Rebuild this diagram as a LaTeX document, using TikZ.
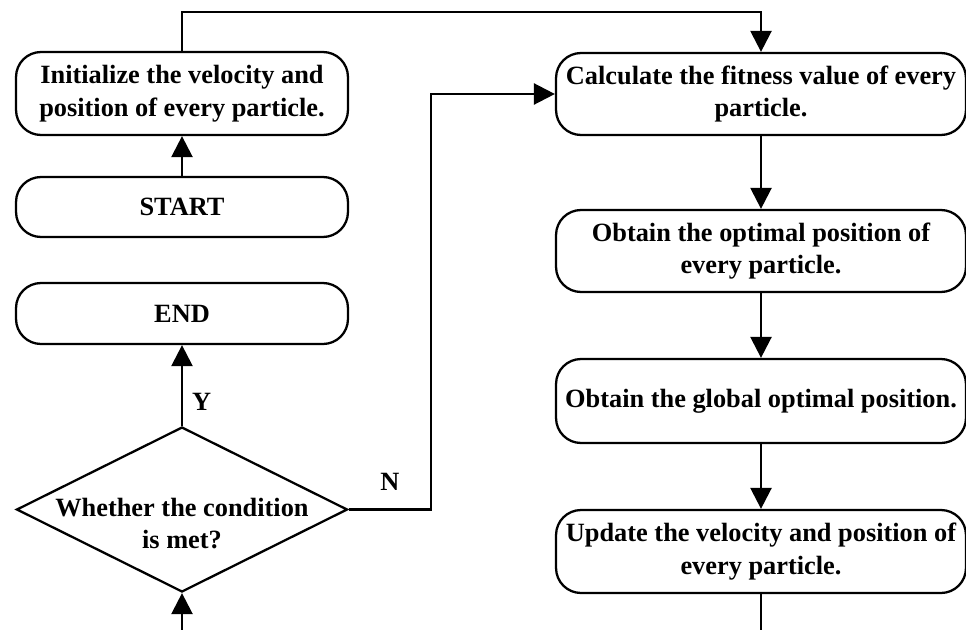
\documentclass[tikz,border=0pt]{standalone}
\usepackage{fontspec}
\setmainfont{Liberation Serif}
\usetikzlibrary{arrows.meta,shapes.geometric}
\tikzset{
	flowtext/.style={align=center, inner sep=0pt, font=\bfseries\fontsize{15}{18.5}\selectfont},
	flowbox/.style={flowtext, draw, line width=1.3pt, rounded corners=0.5cm},
	decision/.style={draw, shape=diamond, line width=1.3pt, inner sep=0pt, minimum width=6.62cm, minimum height=3.3cm},
	flowline/.style={line width=1.4pt},
	flowarrow/.style={flowline, -{Triangle[length=0.42cm,width=0.42cm]}}
}

\begin{document}
\begin{tikzpicture}[x=0.02cm, y=-0.02cm]
		%%%%% START %%%%%
		\useasboundingbox (0,0) rectangle (966,629);
		
		\node[flowbox, minimum width=6.64cm, minimum height=1.66cm] (init) at (182,93.5) {Initialize the velocity and\\position of every particle.};
		\node[flowbox, minimum width=6.64cm, minimum height=1.2cm] (start) at (182,207) {START};
		\node[flowbox, minimum width=6.64cm, minimum height=1.22cm] (end) at (182,313.5) {END};
		\node[decision] (cond) at (182,509.5) {};
		\node[flowtext, yshift=-0.28cm] (condtext) at (cond) {Whether the condition\\is met?};
		
		\node[flowbox, minimum width=8.2cm, minimum height=1.64cm] (calc) at (761,94) {Calculate the fitness value of every\\particle.};
		\node[flowbox, minimum width=8.2cm, minimum height=1.64cm] (pbest) at (761,251) {Obtain the optimal position of\\every particle.};
		\node[flowbox, minimum width=8.2cm, minimum height=1.68cm] (gbest) at (761,401) {Obtain the global optimal position.};
		\node[flowbox, minimum width=8.2cm, minimum height=1.66cm] (update) at (761,551.5) {Update the velocity and position of\\every particle.};
		
		\coordinate (topline) at (470,12);
		\coordinate (nturn) at (431,300);
		\coordinate (loopin) at (182,640);
		
		\draw[flowarrow] (start) -- (init);
		\draw[flowarrow] (init.north) |- (topline) -| (calc.north);
		\draw[flowarrow] (calc) -- (pbest);
		\draw[flowarrow] (pbest) -- (gbest);
		\draw[flowarrow] (gbest) -- (update);
		\draw[flowline] (update.south) -- (update.south |- loopin);
		\draw[flowarrow] (loopin) -- (cond.south);
		\draw[flowarrow] (cond.north) -- node[flowtext, pos=0.3, right, xshift=5pt] {Y} (end.south);
		\draw[flowarrow] (cond.east) -| node[flowtext, pos=0.25, above, yshift=10pt] {N} (nturn) |- (calc.west);
		%%%%% END %%%%%
	\end{tikzpicture}
\end{document}
